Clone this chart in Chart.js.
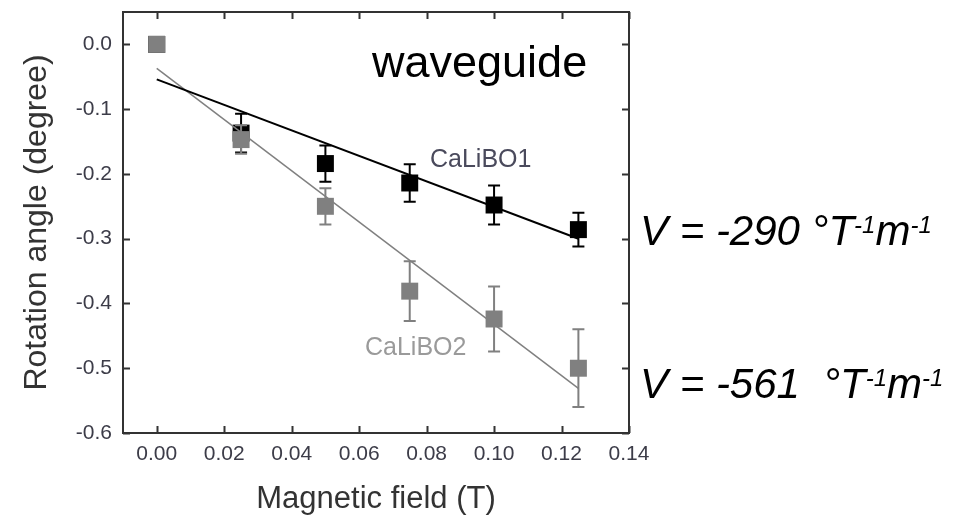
<!DOCTYPE html>
<html>
<head>
<meta charset="utf-8">
<script src="https://cdn.jsdelivr.net/npm/chart.js@4"></script>
<style>
  html, body { margin: 0; padding: 0; background: #fff; }
  #chart { display: block; }
</style>
</head>
<body>
<canvas id="chart" width="955" height="518"></canvas>
<script>
// --- data ---
const fieldT = [0, 0.025, 0.05, 0.075, 0.10, 0.125];
const caLiBO1 = [0, -0.137, -0.184, -0.214, -0.248, -0.286];
const caLiBO1Err = [0, 0.030, 0.028, 0.029, 0.030, 0.026];
const caLiBO2 = [0, -0.147, -0.250, -0.381, -0.424, -0.500];
const caLiBO2Err = [0, 0.022, 0.028, 0.046, 0.050, 0.060];

// linear fits, evaluated at both ends of the field range
const fitX = [0, 0.125];
const fit1Y = [-0.054, -0.300];
const fit2Y = [-0.037, -0.531];

const xTicks = [0, 0.02, 0.04, 0.06, 0.08, 0.10, 0.12, 0.14];
const yTicks = [0, -0.1, -0.2, -0.3, -0.4, -0.5, -0.6];

const BLACK = '#000000';
const GREY = '#808080';
const AXIS = '#333333';
const TICK_TXT = '#3c3c48';
const FONT = 'Arial, "Liberation Sans", sans-serif';

function toPoints(xs, ys) {
    return xs.map((x, i) => ({ x: x, y: ys[i] }));
}

// error bars drawn right after each point dataset so overlaps keep their order
const errorBars = {
    id: 'errorBars',
    afterDatasetDraw(chart, args) {
        const ds = chart.data.datasets[args.index];
        if (!ds.errors) return;
        const ctx = chart.ctx;
        const xs = chart.scales.x, ys = chart.scales.y;
        ctx.save();
        ctx.strokeStyle = ds.borderColor;
        ctx.lineWidth = 2;
        ds.data.forEach((p, i) => {
            const e = ds.errors[i];
            if (!e) return;
            const px = xs.getPixelForValue(p.x);
            const top = ys.getPixelForValue(p.y + e);
            const bot = ys.getPixelForValue(p.y - e);
            ctx.beginPath();
            ctx.moveTo(px, top); ctx.lineTo(px, bot);
            ctx.moveTo(px - 6, top); ctx.lineTo(px + 6, top);
            ctx.moveTo(px - 6, bot); ctx.lineTo(px + 6, bot);
            ctx.stroke();
        });
        ctx.restore();
    }
};

// closed frame with inward ticks on every side (Origin style)
const frame = {
    id: 'frame',
    afterDraw(chart) {
        const ctx = chart.ctx;
        const a = chart.chartArea;
        const xs = chart.scales.x, ys = chart.scales.y;
        const len = 7;
        ctx.save();
        ctx.strokeStyle = AXIS;
        ctx.lineWidth = 2;
        ctx.strokeRect(a.left, a.top, a.right - a.left, a.bottom - a.top);
        ctx.beginPath();
        xTicks.forEach(v => {
            const px = Math.round(xs.getPixelForValue(v)) + 0.5;
            ctx.moveTo(px, a.bottom); ctx.lineTo(px, a.bottom - len);
            ctx.moveTo(px, a.top); ctx.lineTo(px, a.top + len);
        });
        yTicks.forEach(v => {
            const py = Math.round(ys.getPixelForValue(v)) + 0.5;
            ctx.moveTo(a.left, py); ctx.lineTo(a.left + len, py);
            ctx.moveTo(a.right, py); ctx.lineTo(a.right - len, py);
        });
        ctx.stroke();
        ctx.restore();
    }
};

// free text: panel label, series labels and the Verdet constants
function drawV(ctx, x, y, main) {
    ctx.font = 'italic 42px ' + FONT;
    ctx.fillText(main, x, y);
    x += ctx.measureText(main).width;
    ctx.font = 'italic 24px ' + FONT;
    ctx.fillText('-1', x, y - 12);
    x += ctx.measureText('-1').width;
    ctx.font = 'italic 42px ' + FONT;
    ctx.fillText('m', x, y);
    x += ctx.measureText('m').width;
    ctx.font = 'italic 24px ' + FONT;
    ctx.fillText('-1', x, y - 12);
}

const labels = {
    id: 'labels',
    afterDraw(chart) {
        const ctx = chart.ctx;
        ctx.save();
        ctx.textBaseline = 'alphabetic';
        ctx.textAlign = 'left';
        ctx.fillStyle = '#000';
        ctx.font = '45px ' + FONT;
        ctx.fillText('waveguide', 372, 77);
        ctx.font = '25px ' + FONT;
        ctx.fillStyle = '#4a4a5c';
        ctx.fillText('CaLiBO1', 430, 167);
        ctx.fillStyle = '#9a9a9a';
        ctx.fillText('CaLiBO2', 365, 355);
        ctx.fillStyle = '#000';
        drawV(ctx, 640, 245, 'V = -290 \u00B0T');
        drawV(ctx, 640, 398, 'V = -561  \u00B0T');
        ctx.restore();
    }
};

const ctx = document.getElementById('chart').getContext('2d');
new Chart(ctx, {
    type: 'scatter',
    data: {
        datasets: [
            {
                label: 'CaLiBO2',
                data: toPoints(fieldT, caLiBO2),
                errors: caLiBO2Err,
                backgroundColor: GREY,
                borderColor: GREY,
                pointStyle: 'rect',
                pointRadius: 12,
                pointHoverRadius: 12,
                borderWidth: 0,
                order: 1
            },
            {
                label: 'CaLiBO1',
                data: toPoints(fieldT, caLiBO1),
                errors: caLiBO1Err,
                backgroundColor: BLACK,
                borderColor: BLACK,
                pointStyle: 'rect',
                pointRadius: 12,
                pointHoverRadius: 12,
                borderWidth: 0,
                order: 2
            },
            {
                label: 'fit 1',
                type: 'line',
                data: toPoints(fitX, fit1Y),
                borderColor: BLACK,
                borderWidth: 2,
                pointRadius: 0,
                fill: false,
                order: 0
            },
            {
                label: 'fit 2',
                type: 'line',
                data: toPoints(fitX, fit2Y),
                borderColor: GREY,
                borderWidth: 1.5,
                pointRadius: 0,
                fill: false,
                order: 0
            }
        ]
    },
    options: {
        responsive: false,
        animation: false,
        devicePixelRatio: 1,
        layout: { padding: { top: 10, right: 326, left: 0, bottom: 0 } },
        plugins: {
            legend: { display: false },
            tooltip: { enabled: false }
        },
        scales: {
            x: {
                type: 'linear',
                min: -0.01,
                max: 0.14,
                grid: { display: false, drawTicks: false },
                border: { display: false },
                afterBuildTicks: scale => { scale.ticks = xTicks.map(v => ({ value: v })); },
                afterFit: scale => {
                    scale.height = 85;
                    scale.paddingLeft = 0;
                    scale.paddingRight = 0;
                },
                ticks: {
                    padding: 9,
                    color: TICK_TXT,
                    font: { family: FONT, size: 21 },
                    maxRotation: 0,
                    callback: v => v.toFixed(2)
                },
                title: {
                    display: true,
                    text: 'Magnetic field (T)',
                    color: AXIS,
                    font: { family: FONT, size: 31 },
                    padding: { top: 0, bottom: 0 }
                }
            },
            y: {
                type: 'linear',
                min: -0.6,
                max: 0.05,
                grid: { display: false, drawTicks: false },
                border: { display: false },
                afterBuildTicks: scale => { scale.ticks = yTicks.map(v => ({ value: v })); },
                afterFit: scale => {
                    scale.width = 123;
                    scale.paddingTop = 0;
                    scale.paddingBottom = 0;
                },
                ticks: {
                    padding: 11,
                    color: TICK_TXT,
                    font: { family: FONT, size: 21 },
                    callback: v => v.toFixed(1)
                },
                title: {
                    display: true,
                    text: 'Rotation angle (degree)',
                    color: AXIS,
                    font: { family: FONT, size: 32 },
                    padding: { top: 18, bottom: 0 }
                }
            }
        }
    },
    plugins: [errorBars, frame, labels]
});
</script>
</body>
</html>
